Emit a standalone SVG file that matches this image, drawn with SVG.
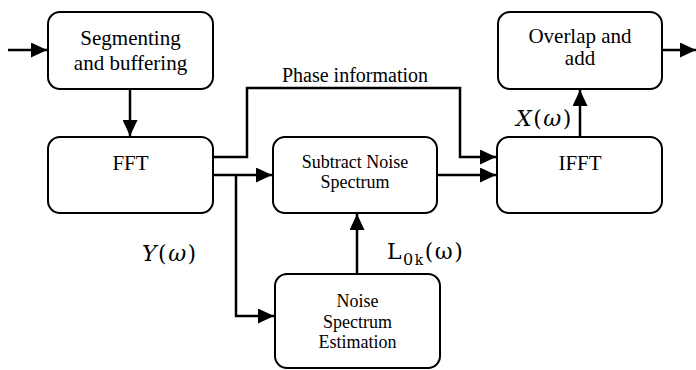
<svg xmlns="http://www.w3.org/2000/svg" width="696" height="370" viewBox="0 0 696 370">
<style>
.box{fill:#fff;stroke:#000;stroke-width:2}
.t{font-family:"Liberation Serif",serif;fill:#000;text-anchor:middle}
.big{font-size:21px}
.sm{font-size:18px}
.math{font-family:"DejaVu Serif",serif;font-size:22px;letter-spacing:1.5px;fill:#000}
.c{fill:none;stroke:#000;stroke-width:2.5}
</style>
<defs>
<marker id="ah" viewBox="0 0 16 15" refX="16" refY="7.5" markerWidth="16" markerHeight="15" markerUnits="userSpaceOnUse" orient="auto">
<path d="M0,0 L16,7.5 L0,15 Z" fill="#000"/>
</marker>
</defs>
<g id="connectors">
<path class="c" d="M8,50 H47" marker-end="url(#ah)"/>
<path class="c" d="M130,89 V136" marker-end="url(#ah)"/>
<path class="c" d="M213,157 H247 V88 H460 V157 H496" marker-end="url(#ah)"/>
<path class="c" d="M213,175 H272" marker-end="url(#ah)"/>
<path class="c" d="M236,175 V316 H274" marker-end="url(#ah)"/>
<path class="c" d="M437,175 H496" marker-end="url(#ah)"/>
<path class="c" d="M357,274 V214" marker-end="url(#ah)"/>
<path class="c" d="M580,137 V90" marker-end="url(#ah)"/>
<path class="c" d="M662,50 H696" marker-end="url(#ah)"/>
</g>
<g id="seg">
<rect class="box" x="48" y="12" width="165" height="77" rx="12"/>
<text class="t big" x="130.5" y="45">Segmenting</text>
<text class="t big" x="130.5" y="70">and buffering</text>
</g>
<g id="fft">
<rect class="box" x="48" y="137" width="165" height="76" rx="12"/>
<text class="t big" x="130.5" y="170">FFT</text>
</g>
<g id="subtract">
<rect class="box" x="273" y="137" width="164" height="76" rx="12"/>
<text class="t sm" x="355" y="168">Subtract Noise</text>
<text class="t sm" x="355" y="188">Spectrum</text>
</g>
<g id="ifft">
<rect class="box" x="497" y="137" width="165" height="76" rx="12"/>
<text class="t big" x="580" y="170">IFFT</text>
</g>
<g id="overlap">
<rect class="box" x="498" y="12" width="164" height="77" rx="12"/>
<text class="t big" x="580" y="43">Overlap and</text>
<text class="t big" x="580" y="65">add</text>
</g>
<g id="noise">
<rect class="box" x="275" y="274" width="165" height="94" rx="12"/>
<text class="t sm" x="357.5" y="307">Noise</text>
<text class="t sm" x="357.5" y="328">Spectrum</text>
<text class="t sm" x="357.5" y="348">Estimation</text>
</g>
<g id="labels">
<text class="t" x="355" y="82" style="font-size:20px">Phase information</text>
<text class="math" x="516" y="126"><tspan font-style="italic">X</tspan>(<tspan font-style="italic">ω</tspan>)</text>
<text class="math" x="142" y="261"><tspan font-style="italic">Y</tspan>(<tspan font-style="italic">ω</tspan>)</text>
<text class="math" x="387" y="259">L<tspan font-size="16" dy="6">0</tspan><tspan font-size="14">k</tspan><tspan dy="-6">(ω)</tspan></text>
</g>
</svg>
